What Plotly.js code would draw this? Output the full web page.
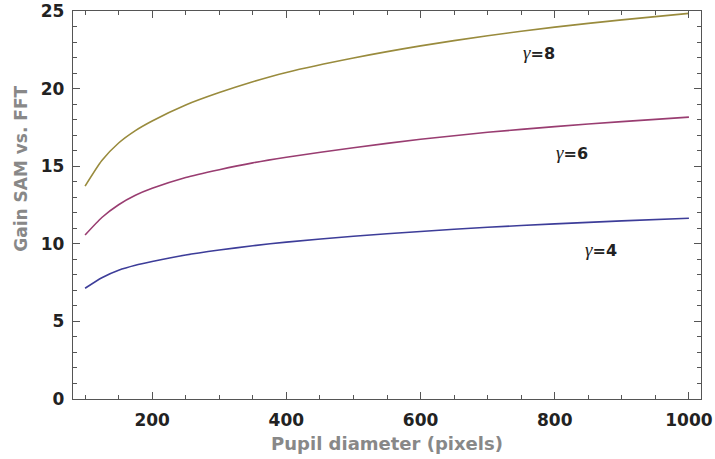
<!DOCTYPE html>
<html>
<head>
<meta charset="utf-8">
<script src="https://cdn.plot.ly/plotly-3.0.1.min.js"></script>
<style>html,body{margin:0;padding:0;background:#fff;}#chart{width:715px;height:459px;}</style>
</head>
<body>
<div id="chart"></div>
<script>
// Pupil diameter (pixels)
const pupilDiameter = [100, 125, 150, 175, 200, 250, 300, 350, 400, 500, 600, 700, 800, 900, 1000];
// Gain SAM vs. FFT for each gamma
const gainGamma4 = [7.14, 7.82, 8.30, 8.62, 8.86, 9.28, 9.60, 9.88, 10.11, 10.49, 10.80, 11.07, 11.29, 11.48, 11.65];
const gainGamma6 = [10.57, 11.70, 12.52, 13.13, 13.58, 14.28, 14.78, 15.22, 15.58, 16.20, 16.74, 17.19, 17.56, 17.88, 18.17];
const gainGamma8 = [13.72, 15.37, 16.50, 17.30, 17.92, 18.95, 19.75, 20.45, 21.05, 21.98, 22.76, 23.42, 23.97, 24.44, 24.86];
const seriesNames = ['γ=4', 'γ=6', 'γ=8'];
const gammaValues = ['4', '6', '8'];
const xTickVals = [200, 400, 600, 800, 1000];
const yTickVals = [0, 5, 10, 15, 20, 25];

const colors = ['#3d3d99', '#993d71', '#998b3d'];
const ys = [gainGamma4, gainGamma6, gainGamma8];
const traces = ys.map((y, i) => ({
  x: pupilDiameter, y: y, type: 'scatter', mode: 'lines', name: seriesNames[i],
  line: {color: colors[i], width: 1.6, shape: 'spline', smoothing: 0.6},
  hoverinfo: 'skip'
}));

const FONT = 'DejaVu Sans';
const labelPos = [[869, 9.65], [825, 15.92], [777, 22.35]];
const annotations = gammaValues.map((g, i) => ({
  x: labelPos[i][0], y: labelPos[i][1], xref: 'x', yref: 'y', showarrow: false,
  text: '<span style="font-family:\'Liberation Serif\';font-style:italic;font-weight:normal;font-size:19px">γ</span>=' + g,
  font: {family: FONT, size: 16, color: '#222', weight: 700}
}));
annotations.push({
  xref: 'paper', yref: 'paper', x: -0.083, y: 0.593, showarrow: false, textangle: -90,
  xanchor: 'center', yanchor: 'middle',
  text: 'Gain SAM vs. FFT',
  font: {family: FONT, size: 17, color: '#888', weight: 700}
});

const axisCommon = {
  showgrid: false, zeroline: false, showline: true, linecolor: '#555', linewidth: 1.3,
  mirror: 'allticks', ticks: 'inside', ticklen: 7, tickwidth: 1, tickcolor: '#555',
  ticklabeloverflow: 'allow',
  tickfont: {family: FONT, size: 17, color: '#222', weight: 700}
};

const layout = {
  width: 715, height: 459,
  margin: {l: 73, r: 14, t: 11, b: 60},
  paper_bgcolor: '#fff', plot_bgcolor: '#fff',
  showlegend: false,
  xaxis: Object.assign({}, axisCommon, {
    range: [82, 1018], tickmode: 'array', tickvals: xTickVals,
    ticklabelstandoff: 5,
    minor: {dtick: 50, tick0: 0, ticks: 'inside', ticklen: 4, tickcolor: '#555', tickwidth: 1},
    title: {text: 'Pupil diameter (pixels)', font: {family: FONT, size: 18, color: '#888', weight: 700}, standoff: 8}
  }),
  yaxis: Object.assign({}, axisCommon, {
    range: [0, 25.01], tickmode: 'array', tickvals: yTickVals,
    ticklabelstandoff: 4,
    minor: {dtick: 1, tick0: 0, ticks: 'inside', ticklen: 4, tickcolor: '#555', tickwidth: 1}
  }),
  annotations: annotations
};

Plotly.newPlot('chart', traces, layout, {displayModeBar: false, staticPlot: true});
</script>
</body>
</html>
